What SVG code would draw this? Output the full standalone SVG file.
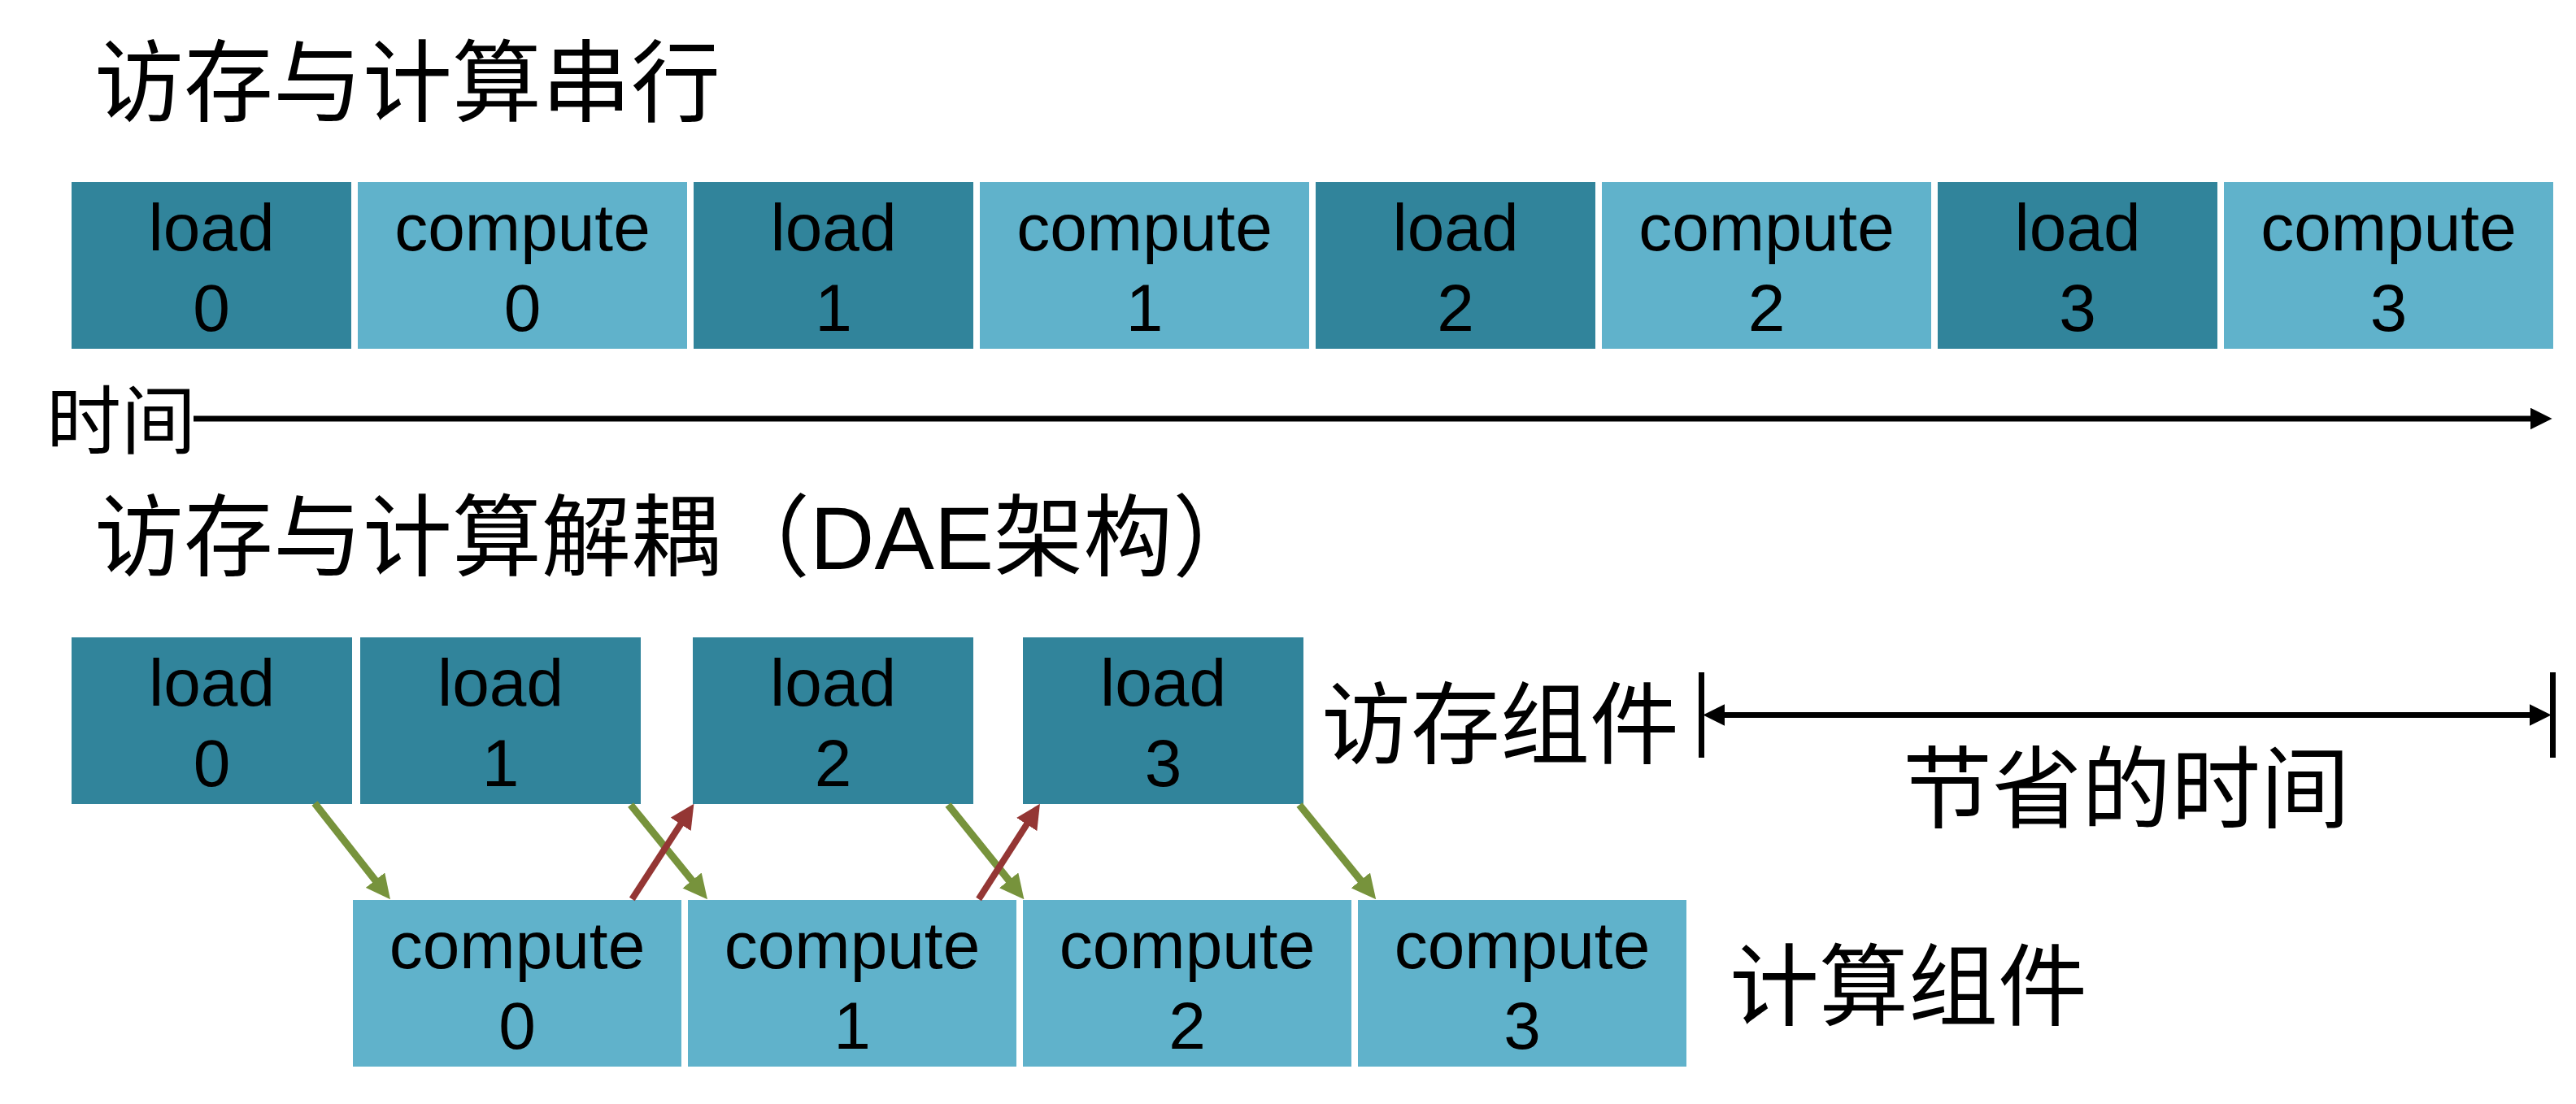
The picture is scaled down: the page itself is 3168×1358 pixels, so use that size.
<svg xmlns="http://www.w3.org/2000/svg" width="3168" height="1358" viewBox="0 0 3168 1358">
<style>
text{font-family:"Liberation Sans","Noto Sans CJK SC",sans-serif;fill:#000}
.lbl{font-size:82px;text-anchor:middle}
.ttl{font-size:110px}
.load{fill:#31849B}
.comp{fill:#60B2CB}
.g{stroke:#77933C;stroke-width:9;fill:none}
.r{stroke:#943634;stroke-width:8;fill:none}
.k{stroke:#000;stroke-width:7;fill:none}
</style>
<defs>
<marker id="ag" markerUnits="userSpaceOnUse" markerWidth="30" markerHeight="30" viewBox="0 0 29 29" refX="10" refY="14.5" orient="auto"><path d="M0,0 L29,14.5 L0,29 z" fill="#77933C"/></marker>
<marker id="ar" markerUnits="userSpaceOnUse" markerWidth="30" markerHeight="30" viewBox="0 0 29 29" refX="10" refY="14.5" orient="auto"><path d="M0,0 L29,14.5 L0,29 z" fill="#943634"/></marker>
<marker id="ak" markerUnits="userSpaceOnUse" markerWidth="27" markerHeight="27" viewBox="0 0 26 26" refX="10" refY="13" orient="auto-start-reverse"><path d="M0,0 L26,13 L0,26 z" fill="#000"/></marker>
</defs>

<text id="title1" class="ttl" x="116" y="141">访存与计算串行</text>

<g id="serial">
<g id="s-load0"><rect class="load" x="88" y="224" width="344" height="205"/><text class="lbl" x="260" y="308">load</text><text class="lbl" x="260" y="407">0</text></g>
<g id="s-comp0"><rect class="comp" x="440" y="224" width="405" height="205"/><text class="lbl" x="642.5" y="308">compute</text><text class="lbl" x="642.5" y="407">0</text></g>
<g id="s-load1"><rect class="load" x="853" y="224" width="344" height="205"/><text class="lbl" x="1025" y="308">load</text><text class="lbl" x="1025" y="407">1</text></g>
<g id="s-comp1"><rect class="comp" x="1205" y="224" width="405" height="205"/><text class="lbl" x="1407.5" y="308">compute</text><text class="lbl" x="1407.5" y="407">1</text></g>
<g id="s-load2"><rect class="load" x="1618" y="224" width="344" height="205"/><text class="lbl" x="1790" y="308">load</text><text class="lbl" x="1790" y="407">2</text></g>
<g id="s-comp2"><rect class="comp" x="1970" y="224" width="405" height="205"/><text class="lbl" x="2172.5" y="308">compute</text><text class="lbl" x="2172.5" y="407">2</text></g>
<g id="s-load3"><rect class="load" x="2383" y="224" width="344" height="205"/><text class="lbl" x="2555" y="308">load</text><text class="lbl" x="2555" y="407">3</text></g>
<g id="s-comp3"><rect class="comp" x="2735" y="224" width="405" height="205"/><text class="lbl" x="2937.5" y="308">compute</text><text class="lbl" x="2937.5" y="407">3</text></g>
</g>

<text id="time-label" x="57" y="551" style="font-size:92px">时间</text>

<text id="title2" class="ttl" x="116" y="700">访存与计算解耦（DAE架构）</text>

<g id="dae">
<g id="d-load0"><rect class="load" x="88" y="784" width="345" height="205"/><text class="lbl" x="260.5" y="868">load</text><text class="lbl" x="260.5" y="967">0</text></g>
<g id="d-load1"><rect class="load" x="443" y="784" width="345" height="205"/><text class="lbl" x="615.5" y="868">load</text><text class="lbl" x="615.5" y="967">1</text></g>
<g id="d-load2"><rect class="load" x="852" y="784" width="345" height="205"/><text class="lbl" x="1024.5" y="868">load</text><text class="lbl" x="1024.5" y="967">2</text></g>
<g id="d-load3"><rect class="load" x="1258" y="784" width="345" height="205"/><text class="lbl" x="1430.5" y="868">load</text><text class="lbl" x="1430.5" y="967">3</text></g>
<g id="d-comp0"><rect class="comp" x="434" y="1107" width="404" height="205"/><text class="lbl" x="636" y="1191">compute</text><text class="lbl" x="636" y="1290">0</text></g>
<g id="d-comp1"><rect class="comp" x="846" y="1107" width="404" height="205"/><text class="lbl" x="1048" y="1191">compute</text><text class="lbl" x="1048" y="1290">1</text></g>
<g id="d-comp2"><rect class="comp" x="1258" y="1107" width="404" height="205"/><text class="lbl" x="1460" y="1191">compute</text><text class="lbl" x="1460" y="1290">2</text></g>
<g id="d-comp3"><rect class="comp" x="1670" y="1107" width="404" height="205"/><text class="lbl" x="1872" y="1191">compute</text><text class="lbl" x="1872" y="1290">3</text></g>
</g>

<text id="mem-label" class="ttl" x="1625" y="931">访存组件</text>
<text id="saved-label" class="ttl" x="2340" y="1010">节省的时间</text>
<text id="comp-label" class="ttl" x="2127" y="1253">计算组件</text>

<g id="connectors">
<line class="k" x1="238" y1="515" x2="3122" y2="515" marker-end="url(#ak)"/>
<line class="g" x1="387" y1="988" x2="467.8" y2="1090.8" marker-end="url(#ag)"/>
<line class="g" x1="775.6" y1="990" x2="857.6" y2="1091" marker-end="url(#ag)"/>
<line class="g" x1="1166" y1="990" x2="1247.1" y2="1090.9" marker-end="url(#ag)"/>
<line class="g" x1="1598" y1="990" x2="1679.8" y2="1090.9" marker-end="url(#ag)"/>
<line class="r" x1="777.3" y1="1106" x2="842.7" y2="1005.2" marker-end="url(#ar)"/>
<line class="r" x1="1203.6" y1="1106" x2="1268.3" y2="1005.3" marker-end="url(#ar)"/>
<line class="k" x1="2092.5" y1="827" x2="2092.5" y2="932"/>
<line class="k" x1="3139.5" y1="827" x2="3139.5" y2="932"/>
<line class="k" x1="2111" y1="879.5" x2="3121" y2="879.5" marker-start="url(#ak)" marker-end="url(#ak)"/>
</g>
</svg>
